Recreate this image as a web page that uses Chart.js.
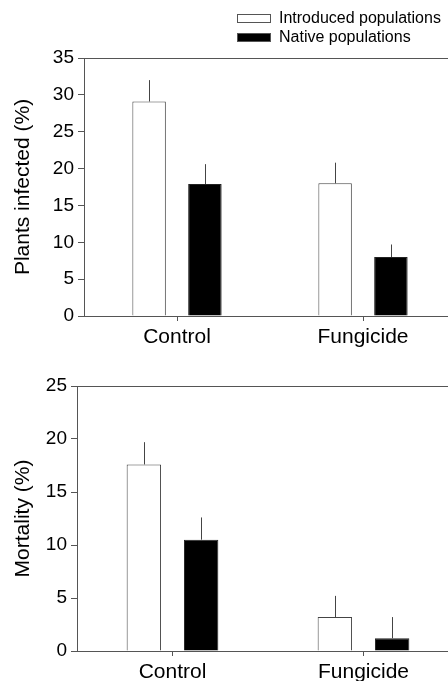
<!DOCTYPE html>
<html>
<head>
<meta charset="utf-8">
<script src="https://cdn.jsdelivr.net/npm/chart.js@4"></script>
<style>
  html, body { margin: 0; padding: 0; background: #fff; overflow: hidden; width: 448px; height: 681px; }
  body { position: relative; font-family: "Liberation Sans", Arial, sans-serif; }
  .panel { position: absolute; left: 0; width: 470px; }
  #top { top: 0; height: 360px; }
  #bottom { top: 345px; height: 336px; }
  .lg { position: absolute; left: 237px; font-size: 16px; color: #000; line-height: 18px; white-space: nowrap; }
  .lg .box { position: absolute; left: 0; width: 32px; height: 7px; border: 1px solid #555; }
  .lg .txt { position: absolute; left: 42px; top: -5px; }
</style>
</head>
<body>
<div class="panel" id="top"><canvas id="infected"></canvas></div>
<div class="panel" id="bottom"><canvas id="mortality"></canvas></div>
<div id="legend"></div>
<script>
// data
const categories = ["Control", "Fungicide"];
const seriesNames = ["Introduced populations", "Native populations"];

const infectedIntroduced = [29.1, 18.0];
const infectedIntroducedErr = [2.9, 2.8];
const infectedNative = [17.9, 8.0];
const infectedNativeErr = [2.7, 1.7];

const mortalityIntroduced = [17.6, 3.2];
const mortalityIntroducedErr = [2.1, 2.0];
const mortalityNative = [10.5, 1.2];
const mortalityNativeErr = [2.1, 2.0];

const infectedTicks = { min: 0, max: 35, step: 5 };
const mortalityTicks = { min: 0, max: 25, step: 5 };

const FONT = "'Liberation Sans', Arial, sans-serif";
const AXIS = "#555";

// legend (html)
const legendEl = document.getElementById("legend");
seriesNames.forEach((name, i) => {
  const row = document.createElement("div");
  row.className = "lg";
  row.style.top = (14 + i * 19) + "px";
  row.innerHTML = '<div class="box" style="background:' + (i === 0 ? "#fff" : "#000") +
    '"></div><div class="txt">' + name + '</div>';
  legendEl.appendChild(row);
});

// one-sided (upper) error bars + top frame line
const extras = {
  id: "extras",
  afterDatasetsDraw(chart) {
    const ctx = chart.ctx;
    const y = chart.scales.y;
    ctx.save();
    ctx.strokeStyle = "#444";
    ctx.lineWidth = 1;
    chart.data.datasets.forEach((ds, di) => {
      const meta = chart.getDatasetMeta(di);
      meta.data.forEach((bar, i) => {
        const top = y.getPixelForValue(ds.data[i] + ds.err[i]);
        const x = Math.round(bar.x) + 0.5;
        ctx.beginPath();
        ctx.moveTo(x, bar.y);
        ctx.lineTo(x, top);
        ctx.stroke();
      });
    });
    const a = chart.chartArea;
    ctx.strokeStyle = AXIS;
    ctx.beginPath();
    ctx.moveTo(a.left, Math.round(a.top) + 0.5);
    ctx.lineTo(a.right, Math.round(a.top) + 0.5);
    ctx.stroke();
    ctx.restore();
  }
};

function makeChart(id, intro, introErr, native, nativeErr, ticks, title, axisW, xAxisH, padTop, padRight) {
  return new Chart(document.getElementById(id), {
    type: "bar",
    data: {
      labels: categories,
      datasets: [
        {
          label: seriesNames[0],
          data: intro,
          err: introErr,
          backgroundColor: "#fff",
          borderColor: "#444",
          borderWidth: 1,
        },
        {
          label: seriesNames[1],
          data: native,
          err: nativeErr,
          backgroundColor: "#000",
          borderColor: "#222",
          borderWidth: 1,
        },
      ],
    },
    options: {
      responsive: true,
      maintainAspectRatio: false,
      animation: false,
      categoryPercentage: 0.6,
      barPercentage: 0.6,
      layout: { padding: { top: padTop, right: padRight, left: 0, bottom: 0 } },
      plugins: { legend: { display: false }, tooltip: { enabled: false } },
      scales: {
        x: {
          grid: { display: true, drawOnChartArea: false, offset: false, tickLength: 5, color: AXIS },
          border: { display: true, color: AXIS, width: 1 },
          ticks: { color: "#000", font: { family: FONT, size: 21 }, padding: 4 },
          afterFit: (s) => { s.height = xAxisH; },
        },
        y: {
          min: ticks.min,
          max: ticks.max,
          grid: { drawOnChartArea: false, tickLength: 6, color: AXIS },
          border: { display: true, color: AXIS, width: 1 },
          ticks: { stepSize: ticks.step, color: "#000", font: { family: FONT, size: 19 }, padding: 4 },
          title: {
            display: true,
            text: title,
            color: "#000",
            font: { family: FONT, size: 21, weight: "normal" },
            padding: { top: 11, bottom: 0 },
          },
          afterFit: (s) => { s.width = axisW; },
        },
      },
    },
    plugins: [extras],
  });
}

makeChart("infected", infectedIntroduced, infectedIntroducedErr, infectedNative, infectedNativeErr,
  infectedTicks, "Plants infected (%)", 84, 44, 58, 14);
makeChart("mortality", mortalityIntroduced, mortalityIntroducedErr, mortalityNative, mortalityNativeErr,
  mortalityTicks, "Mortality (%)", 77, 30, 41, 11);
</script>
</body>
</html>
